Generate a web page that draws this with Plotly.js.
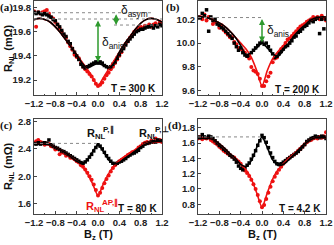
<!DOCTYPE html>
<html><head><meta charset="utf-8">
<script src="https://cdn.plot.ly/plotly-3.0.1.min.js"></script>
<style>html,body{margin:0;padding:0;background:#fff}#chart{width:334px;height:245px}</style>
</head><body><div id="chart"></div>
<script>
const BZ = [-1.2,-1.16,-1.12,-1.08,-1.04,-1.0,-0.96,-0.92,-0.88,-0.84,-0.8,-0.76,-0.72,-0.68,-0.64,-0.6,-0.56,-0.52,-0.48,-0.44,-0.4,-0.36,-0.32,-0.28,-0.24,-0.2,-0.16,-0.12,-0.08,-0.04,0,0.04,0.08,0.12,0.16,0.2,0.24,0.28,0.32,0.36,0.4,0.44,0.48,0.52,0.56,0.6,0.64,0.68,0.72,0.76,0.8,0.84,0.88,0.92,0.96,1.0,1.04,1.08,1.12,1.16,1.2];
const FX = [-1.2,-1.1,-1.0,-0.9,-0.8,-0.7,-0.6,-0.5,-0.4,-0.3,-0.2,-0.1,0,0.1,0.2,0.3,0.4,0.5,0.6,0.7,0.8,0.9,1.0,1.1,1.2];

const aBlack = [19.76,19.75,19.76,19.75,19.74,19.75,19.74,19.73,19.72,19.70,19.69,19.66,19.64,19.61,19.58,19.56,19.52,19.50,19.46,19.43,19.40,19.37,19.33,19.31,19.30,19.31,19.32,19.33,19.34,19.35,19.34,19.35,19.34,19.32,19.31,19.30,19.31,19.33,19.35,19.38,19.41,19.44,19.46,19.49,19.52,19.54,19.56,19.58,19.60,19.61,19.62,19.62,19.63,19.64,19.64,19.65,19.63,19.65,19.64,19.66,19.65];
const aRed = [19.77,19.64,19.76,19.75,19.76,19.77,19.78,19.75,19.72,19.71,19.68,19.66,19.63,19.60,19.57,19.55,19.51,19.48,19.45,19.41,19.39,19.38,19.34,19.31,19.29,19.27,19.25,19.23,19.20,19.17,19.15,19.16,19.18,19.21,19.24,19.26,19.29,19.31,19.34,19.37,19.40,19.43,19.47,19.50,19.52,19.55,19.57,19.60,19.61,19.63,19.64,19.63,19.65,19.64,19.66,19.64,19.66,19.67,19.65,19.68,19.66];
const aRedFit = [19.70,19.71,19.70,19.68,19.64,19.59,19.53,19.47,19.41,19.35,19.29,19.22,19.15,19.22,19.29,19.36,19.43,19.50,19.56,19.62,19.67,19.70,19.71,19.70,19.68];
const aBlackFit = [19.70,19.71,19.70,19.68,19.64,19.59,19.53,19.47,19.41,19.34,19.30,19.32,19.34,19.32,19.30,19.34,19.43,19.50,19.56,19.62,19.67,19.70,19.71,19.70,19.68];

const bBlack = [10.22,10.21,10.25,10.23,10.28,10.10,10.22,10.19,10.20,10.16,10.15,10.13,10.12,10.10,10.08,10.06,10.04,10.00,9.97,9.94,9.96,9.92,9.90,9.89,9.90,9.92,9.94,9.96,9.98,10.00,10.01,9.99,10.00,9.97,9.94,9.91,9.88,9.89,9.91,9.93,9.95,9.97,9.98,10.00,10.02,10.05,10.06,10.09,10.10,10.12,10.14,10.15,10.17,10.19,10.18,10.20,10.21,10.08,10.20,10.12,10.20];
const bRed = [10.21,10.22,10.20,10.24,10.19,10.22,10.21,10.16,10.18,10.17,10.13,10.15,10.11,10.09,10.07,10.05,10.05,10.01,9.99,9.96,9.95,9.94,9.92,9.89,9.87,9.80,9.77,9.76,9.74,9.70,9.64,9.64,9.68,9.72,9.75,9.84,9.87,9.88,9.92,9.95,9.97,10.00,10.03,10.04,10.06,10.08,10.10,10.12,10.14,10.15,10.16,10.18,10.19,10.20,10.22,10.21,10.22,10.20,10.23,10.21,10.19];
const bRedFit = [10.22,10.22,10.21,10.19,10.17,10.14,10.10,10.05,10.00,9.95,9.88,9.77,9.64,9.77,9.87,9.93,9.98,10.03,10.08,10.12,10.16,10.19,10.21,10.22,10.22];
const bBlackFit = [10.22,10.22,10.21,10.19,10.17,10.14,10.10,10.05,9.98,9.90,9.92,9.96,10.00,9.96,9.91,9.89,9.94,10.00,10.06,10.11,10.15,10.19,10.21,10.22,10.22];

const cBlack = [2.48,2.47,2.49,2.47,2.48,2.49,2.48,2.53,2.46,2.44,2.42,2.41,2.39,2.37,2.36,2.34,2.32,2.30,2.28,2.26,2.24,2.22,2.20,2.19,2.21,2.24,2.28,2.32,2.37,2.42,2.46,2.44,2.40,2.35,2.30,2.26,2.22,2.19,2.18,2.19,2.21,2.22,2.24,2.26,2.29,2.31,2.33,2.34,2.36,2.38,2.42,2.44,2.47,2.48,2.49,2.50,2.51,2.50,2.53,2.51,2.52];
const cRed = [2.49,2.51,2.53,2.50,2.49,2.46,2.48,2.47,2.44,2.43,2.39,2.40,2.32,2.35,2.34,2.30,2.31,2.27,2.27,2.25,2.22,2.20,2.16,2.14,2.10,2.05,2.00,1.95,1.88,1.80,1.72,1.76,1.83,1.90,1.96,2.01,2.07,2.12,2.16,2.19,2.22,2.24,2.26,2.28,2.31,2.33,2.35,2.36,2.38,2.42,2.44,2.47,2.49,2.50,2.49,2.52,2.50,2.55,2.51,2.53,2.50];
const cRedFit = [2.47,2.47,2.47,2.46,2.42,2.38,2.34,2.28,2.22,2.15,2.04,1.89,1.72,1.89,2.04,2.15,2.23,2.29,2.34,2.39,2.44,2.48,2.50,2.50,2.50];
const cBlackFit = [2.47,2.47,2.47,2.46,2.42,2.38,2.34,2.28,2.22,2.18,2.24,2.36,2.46,2.36,2.24,2.18,2.20,2.25,2.31,2.37,2.43,2.47,2.50,2.51,2.51];

const dBlack = [1.68,1.67,1.71,1.68,1.67,1.69,1.68,1.66,1.63,1.60,1.57,1.55,1.52,1.50,1.47,1.44,1.42,1.39,1.35,1.30,1.27,1.25,1.28,1.31,1.34,1.39,1.44,1.50,1.57,1.63,1.70,1.67,1.61,1.54,1.47,1.41,1.36,1.33,1.32,1.33,1.35,1.37,1.39,1.41,1.43,1.45,1.47,1.49,1.52,1.55,1.58,1.62,1.64,1.66,1.67,1.69,1.68,1.67,1.69,1.68,1.66];
const dRed = [1.66,1.68,1.65,1.67,1.66,1.68,1.64,1.62,1.60,1.58,1.55,1.53,1.50,1.48,1.46,1.44,1.42,1.41,1.38,1.36,1.33,1.29,1.24,1.21,1.17,1.12,1.06,1.00,0.92,0.84,0.76,0.79,0.87,0.95,1.03,1.10,1.16,1.21,1.25,1.29,1.33,1.36,1.39,1.41,1.43,1.45,1.47,1.50,1.52,1.55,1.58,1.61,1.63,1.64,1.66,1.67,1.66,1.68,1.67,1.69,1.74];
const dRedFit = [1.66,1.66,1.66,1.64,1.59,1.53,1.46,1.40,1.33,1.25,1.13,0.95,0.76,0.95,1.13,1.25,1.33,1.40,1.46,1.53,1.59,1.64,1.67,1.67,1.67];
const dBlackFit = [1.66,1.66,1.66,1.64,1.59,1.53,1.46,1.40,1.32,1.29,1.37,1.54,1.68,1.54,1.38,1.31,1.32,1.38,1.45,1.52,1.59,1.64,1.67,1.67,1.67];

const panels = [
  {id:'', black:aBlack, red:aRed, bf:aBlackFit, rf:aRedFit},
  {id:'2', black:bBlack, red:bRed, bf:bBlackFit, rf:bRedFit},
  {id:'3', black:cBlack, red:cRed, bf:cBlackFit, rf:cRedFit},
  {id:'4', black:dBlack, red:dRed, bf:dBlackFit, rf:dRedFit}
];
const RED = '#ee1111';
const traces = [];
panels.forEach(p => {
  const xa = 'x'+p.id, ya = 'y'+p.id;
  traces.push({x:BZ, y:p.red, xaxis:xa, yaxis:ya, mode:'markers', type:'scatter',
    marker:{symbol:'circle', size:4, color:RED}});
  traces.push({x:BZ, y:p.black, xaxis:xa, yaxis:ya, mode:'markers', type:'scatter',
    marker:{symbol:'square', size:3.5, color:'#000'}});
  traces.push({x:FX, y:p.rf, xaxis:xa, yaxis:ya, mode:'lines', type:'scatter',
    line:{color:RED, width:1.6, shape:'spline', smoothing:0.7}});
  traces.push({x:FX, y:p.bf, xaxis:xa, yaxis:ya, mode:'lines', type:'scatter',
    line:{color:'#000', width:1.6, shape:'spline', smoothing:0.7}});
});

const tickFont = {family:'Liberation Sans, Arial, sans-serif', size:9.5, color:'#222', weight:'bold'};
function xax(dom, anchor){
  return {domain:dom, anchor:anchor, range:[-1.2,1.2], tickvals:[-1.2,-0.8,-0.4,0,0.4,0.8,1.2],
    tickformat:'.1f', showline:true, linecolor:'#444', linewidth:1, mirror:true,
    ticks:'inside', ticklen:3, tickcolor:'#444', showgrid:false, zeroline:false, tickfont:tickFont,
    minor:{ticks:'inside', ticklen:1.5, dtick:0.2, tickcolor:'#444'}};
}
function yax(dom, anchor, range, dtick){
  return {domain:dom, anchor:anchor, range:range, dtick:dtick, tickformat:'.1f',
    showline:true, linecolor:'#444', linewidth:1, mirror:true, ticks:'inside', ticklen:3,
    tickcolor:'#444', showgrid:false, zeroline:false, tickfont:tickFont};
}
const W=334, H=245;
const XL=[34/W,162/W], XR=[198/W,326/W];
const YT=[1-95/H,1-1/H], YB=[1-214/H,1-119/H];

const dotted = {color:'#888', width:1, dash:'dot'};
const shapes = [
  {type:'line', xref:'x', yref:'y', x0:-1.2, x1:1.05, y0:19.757, y1:19.757, line:dotted},
  {type:'line', xref:'x', yref:'y', x0:-1.2, x1:1.2, y0:19.705, y1:19.705, line:dotted},
  {type:'line', xref:'x', yref:'y', x0:0.3, x1:1.2, y0:19.655, y1:19.655, line:dotted},
  {type:'line', xref:'x2', yref:'y2', x0:-1.2, x1:0, y0:10.215, y1:10.215, line:dotted},
  {type:'line', xref:'x3', yref:'y3', x0:-1.2, x1:0, y0:2.48, y1:2.48, line:dotted},
  {type:'line', xref:'x4', yref:'y4', x0:-1.2, x1:0, y0:1.68, y1:1.68, line:dotted}
];
const GREEN = '#2e9a2e';
function arrow(xr, yr, x, y0, y1){
  return {xref:xr, yref:yr, axref:xr, ayref:yr, x:x, y:y1, ax:x, ay:y0, text:'', showarrow:true,
    arrowhead:2, arrowside:'end+start', arrowsize:0.8, arrowwidth:1.5, arrowcolor:GREEN};
}
const lab = {family:'Liberation Sans, Arial, sans-serif', size:12, color:'#111'};
const bold11 = {family:'Liberation Sans, Arial, sans-serif', size:11, color:'#111', weight:'bold'};
const tfont = {family:'Liberation Sans, Arial, sans-serif', size:10, color:'#111', weight:'bold'};
const serif = {family:'Liberation Serif, DejaVu Serif, serif', size:11, color:'#111', weight:'bold'};
const supF = {family:'Liberation Sans, Arial, sans-serif', size:8, color:'#111', weight:'bold'};
function paper(x, y, text, font, extra){
  return Object.assign({xref:'paper', yref:'paper', x:x/W, y:1-y/H, text:text, showarrow:false, font:font,
    xanchor:'center', yanchor:'middle'}, extra||{});
}
function data(xr, yr, x, y, text, font, extra){
  return Object.assign({xref:xr, yref:yr, x:x, y:y, text:text, showarrow:false, font:font,
    xanchor:'center', yanchor:'middle'}, extra||{});
}
const annotations = [
  arrow('x','y',0.34,19.757,19.655),
  arrow('x','y',0,19.705,19.35),
  arrow('x2','y2',0,10.215,10.005),
  data('x','y',0.4,19.775,'δ<sub>asym</sub>',lab,{xanchor:'left'}),
  data('x','y',0.03,19.51,'δ<sub>anis</sub>',lab,{xanchor:'left'}),
  data('x2','y2',0.05,10.10,'δ<sub>anis</sub>',lab,{xanchor:'left'}),
  paper(6,7,'(a)',serif), paper(173,7,'(b)',serif), paper(6,126,'(c)',serif), paper(175,126,'(d)',serif),
  paper(158,88,'T = 300 K',tfont,{xanchor:'right'}),
  paper(322,89,'T = 200 K',tfont,{xanchor:'right'}),
  paper(159,208,'T = 80 K',tfont,{xanchor:'right'}),
  paper(323,208,'T = 4.2 K',tfont,{xanchor:'right'}),
  paper(9,48,'R<sub>NL</sub> (mΩ)',bold11,{textangle:-90}),
  paper(9,166,'R<sub>NL</sub> (mΩ)',bold11,{textangle:-90}),
  paper(98,235,'B<sub>z</sub> (T)',bold11),
  paper(262,235,'B<sub>z</sub> (T)',bold11),
  data('x3','y3',-0.03,2.62,'R<sub>NL</sub>',bold11),
  data('x3','y3',0.05,2.69,'P,∥',supF,{xanchor:'left'}),
  data('x3','y3',0.95,2.62,'R<sub>NL</sub>',bold11),
  data('x3','y3',1.03,2.69,'P,⊥',supF,{xanchor:'left'}),
  data('x3','y3',-0.05,1.55,'R<sub>NL</sub>',Object.assign({},bold11,{color:RED})),
  data('x3','y3',0.03,1.62,'AP,∥',Object.assign({},supF,{color:RED}),{xanchor:'left'})
];

const layout = {
  width:W, height:H, margin:{l:0,r:0,t:0,b:0}, paper_bgcolor:'#fff', plot_bgcolor:'#fff',
  showlegend:false,
  xaxis:xax(XL,'y'), yaxis:yax(YT,'x',[19.076,19.854],0.2),
  xaxis2:xax(XR,'y2'), yaxis2:yax(YT,'x2',[9.564,10.354],0.2),
  xaxis3:xax(XL,'y3'), yaxis3:yax(YB,'x3',[1.45,2.836],0.4),
  xaxis4:xax(XR,'y4'), yaxis4:yax(YB,'x4',[0.673,1.914],0.2),
  shapes:shapes, annotations:annotations
};
Plotly.newPlot('chart', traces, layout, {displayModeBar:false, staticPlot:true});
</script></body></html>
